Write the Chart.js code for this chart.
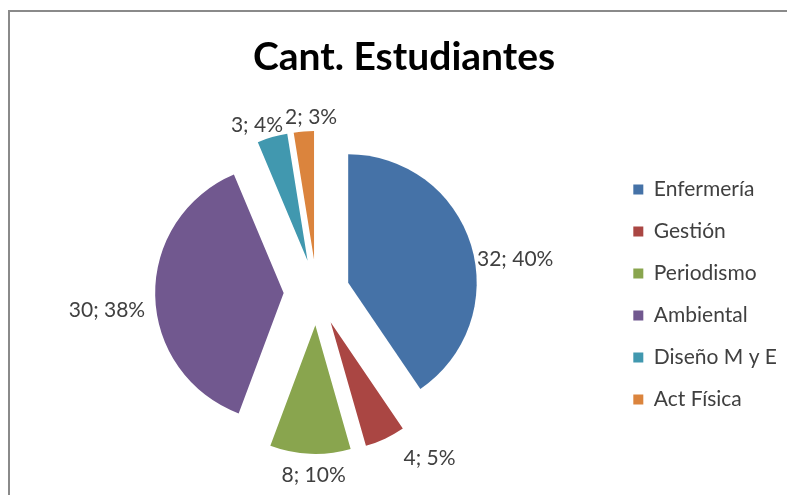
<!DOCTYPE html>
<html>
<head>
<meta charset="utf-8">
<script src="https://cdn.jsdelivr.net/npm/chart.js@4"></script>
<style>
  html, body { margin: 0; padding: 0; background: #fff; }
  #wrap { position: relative; width: 787px; height: 495px; overflow: hidden; }
  #frame { position: absolute; left: 8px; top: 10px; width: 800px; height: 500px; border-left: 2px solid #8a8a8a; border-top: 2px solid #8a8a8a; }
  canvas { position: absolute; left: 0; top: 0; }
</style>
</head>
<body>
<div id="wrap">
  <div id="frame"></div>
  <canvas id="pie-chart" width="787" height="495"></canvas>
</div>
<script>
// data
const carreras = ['Enfermería', 'Gestión', 'Periodismo', 'Ambiental', 'Diseño M y E', 'Act Física'];
const estudiantes = [32, 4, 8, 30, 3, 2];
const colores = ['#4572A7', '#AA4643', '#89A54E', '#71588F', '#4198AF', '#DB843D'];

const explode = 33;
const total = estudiantes.reduce((a, b) => a + b, 0);

// percentages rounded so they add up to 100 (like excel shows them)
function roundedPercents(vals) {
    const raw = vals.map(v => v / total * 100);
    const out = raw.map(Math.floor);
    let left = 100 - out.reduce((a, b) => a + b, 0);
    const order = raw.map((r, i) => i).sort((a, b) => (raw[b] - out[b]) - (raw[a] - out[a]));
    for (let k = 0; k < left; k++) out[order[k]]++;
    return out;
}
const porcentajes = roundedPercents(estudiantes);

// pull every slice away from the centre (like excel "exploded pie")
const explodePlugin = {
    id: 'explode',
    beforeDatasetDraw(chart, args) {
        const ctx = chart.ctx;
        args.meta.data.forEach(el => {
            const {startAngle, endAngle} = el.getProps(['startAngle', 'endAngle'], true);
            const mid = (startAngle + endAngle) / 2;
            ctx.save();
            ctx.translate(Math.cos(mid) * explode, Math.sin(mid) * explode);
            el.draw(ctx);
            ctx.restore();
        });
        return false;
    }
};

// "value; percent" labels outside each slice
const labelShift = [[0, 20], [30, 3], [5, 3], [-2, 14], [-6, 6], [10, 4]];
const labelPlugin = {
    id: 'sliceLabels',
    afterDatasetsDraw(chart) {
        const ctx = chart.ctx;
        const meta = chart.getDatasetMeta(0);
        ctx.save();
        ctx.font = '21px Lato';
        ctx.fillStyle = '#404040';
        ctx.textAlign = 'center';
        ctx.textBaseline = 'middle';
        meta.data.forEach((el, i) => {
            const {x, y, startAngle, endAngle, outerRadius} = el.getProps(['x', 'y', 'startAngle', 'endAngle', 'outerRadius'], true);
            const mid = (startAngle + endAngle) / 2;
            const dx = Math.cos(mid), dy = Math.sin(mid);
            const txt = estudiantes[i] + '; ' + porcentajes[i] + '%';
            const w = ctx.measureText(txt).width;
            const h = 21;
            const r = outerRadius + explode + 8;
            const cx = x + dx * r + dx * w / 2 + labelShift[i][0];
            const cy = y + dy * r + dy * h / 2 + labelShift[i][1];
            ctx.fillText(txt, cx, cy);
        });
        ctx.restore();
    }
};

const pieData = {
    labels: carreras,
    datasets: [{
        data: estudiantes,
        backgroundColor: colores,
        borderWidth: 0
    }]
};

const pieConfig = {
    type: 'pie',
    data: pieData,
    options: {
        responsive: false,
        animation: false,
        radius: 128.5,
        layout: {
            padding: {left: 21, right: 0, top: 0, bottom: 0}
        },
        plugins: {
            legend: {
                position: 'right',
                // empty legend title only pushes the entries down
                title: {display: true, text: '', font: {size: 10}, padding: {top: 82, bottom: 0}},
                labels: {
                    boxWidth: 10,
                    boxHeight: 10,
                    padding: 21,
                    color: '#404040',
                    font: {family: 'Lato', size: 21}
                }
            },
            title: {
                display: true,
                text: 'Cant. Estudiantes',
                color: '#000',
                font: {family: 'Lato', size: 39, weight: 'bold'},
                padding: {top: 34, bottom: 9}
            },
            tooltip: {enabled: false}
        }
    },
    plugins: [explodePlugin, labelPlugin]
};

const pieChart = new Chart(document.getElementById('pie-chart'), pieConfig);
</script>
</body>
</html>
